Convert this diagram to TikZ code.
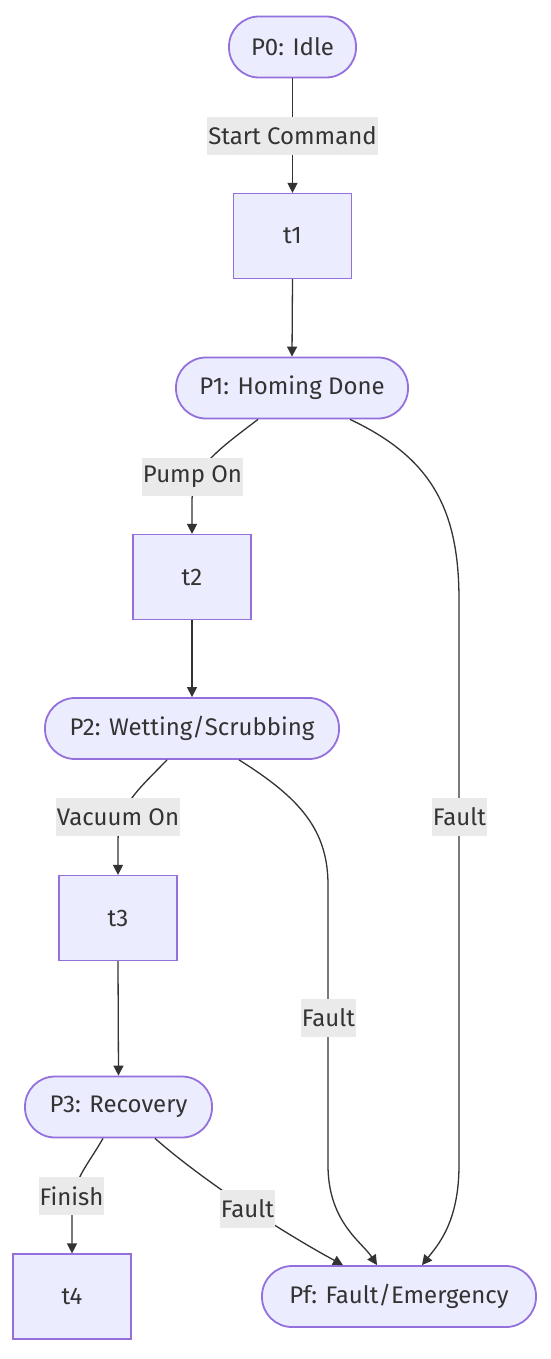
\documentclass[tikz,border=0pt]{standalone}
\usepackage{fontspec}
\setmainfont{Fira Sans}
\usetikzlibrary{arrows.meta,calc}
\definecolor{nodefill}{HTML}{ECECFF}
\definecolor{nodeline}{HTML}{9370DB}
\definecolor{edgecol}{HTML}{333333}
\definecolor{labelbg}{HTML}{EAEAEA}
\definecolor{txt}{HTML}{333333}
\begin{document}
\begin{tikzpicture}[x=1pt,y=-1pt,
  font=\fontsize{24}{28}\selectfont, text=txt,
  place/.style={draw=nodeline, fill=nodefill, line width=1.8pt, rounded corners=30pt, minimum height=61pt, inner sep=0pt},
  trans/.style={draw=nodeline, fill=nodefill, line width=1.2pt, minimum width=118pt, minimum height=85pt, inner sep=0pt},
  elabel/.style={fill=labelbg, inner xsep=1pt, inner ysep=0pt, minimum height=38pt},
  edge/.style={draw=edgecol, line width=1.3pt, -{Triangle[length=10pt,width=10pt]}}]
\useasboundingbox (0,0) rectangle (550,1359);
\fill[white] (0,0) rectangle (550,1359);
% nodes
\node[place, minimum width=127pt] (P0) at (292.5,47) {P0: Idle};
\node[trans] (t1) at (292.5,236) {t1};
\node[place, minimum width=232pt] (P1) at (292,388) {P1: Homing Done};
\node[trans] (t2) at (192,577) {t2};
\node[place, minimum width=294pt] (P2) at (192,728.5) {P2: Wetting/Scrubbing};
\node[trans] (t3) at (118,918) {t3};
\node[place, minimum width=187pt] (P3) at (118.5,1107) {P3: Recovery};
\node[trans] (t4) at (72,1296.5) {t4};
\node[place, minimum width=274pt] (Pf) at (399,1296.5) {Pf: Fault/Emergency};
% edges
\draw[edge] (P0.south) -- (t1.north);
\draw[edge] (t1.south) -- (P1.north);
\draw[edge] ([xshift=-34pt]P1.south) .. controls (215,452) and (193,468) .. (192,500) -- (t2.north);
\draw[edge] (t2.south) -- (P2.north);
\draw[edge] ([xshift=-25pt]P2.south) .. controls (136,792) and (119,805) .. (118,840) -- (t3.north);
\draw[edge] (t3.south) -- (P3.north);
\draw[edge] ([xshift=-15.5pt]P3.south) .. controls (86,1168) and (72,1180) .. (72,1212) -- (t4.north);
\draw[edge] ([xshift=36.5pt]P3.south) .. controls (200,1178) and (275,1228) .. ([xshift=-56pt]Pf.north);
\draw[edge] ([xshift=47pt]P2.south) .. controls (300,798) and (328,830) .. (328,885) -- (328,1165) .. controls (328,1222) and (362,1242) .. ([xshift=-22pt]Pf.north);
\draw[edge] ([xshift=58pt]P1.south) .. controls (432,458) and (459,510) .. (459,600) -- (459,1165) .. controls (459,1222) and (438,1245) .. ([xshift=23pt]Pf.north);
% edge labels
\node[elabel] (l1) at (292.5,136) {Start Command};
\node[elabel] (l2) at (192.5,477) {Pump On};
\node[elabel] (l3) at (118,817) {Vacuum On};
\node[elabel] (l4) at (459.5,817) {Fault};
\node[elabel] (l5) at (328.5,1018) {Fault};
\node[elabel] (l6) at (71.5,1196) {Finish};
\node[elabel] (l7) at (247.5,1209) {Fault};
\end{tikzpicture}
\end{document}
